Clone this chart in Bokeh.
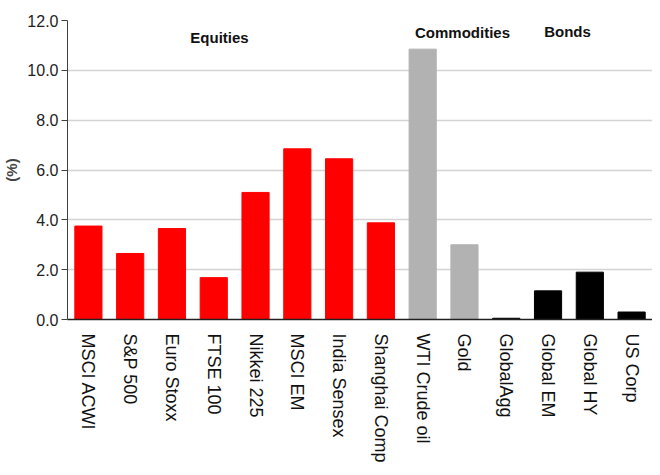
import math
from bokeh.plotting import figure
from bokeh.models import ColumnDataSource, Label, FixedTicker, NumeralTickFormatter, Range1d
from bokeh.embed import file_html
from bokeh.resources import INLINE

categories = ["MSCI ACWI", "S&P 500", "Euro Stoxx", "FTSE 100", "Nikkei 225", "MSCI EM",
              "India Sensex", "Shanghai Comp", "WTI Crude oil", "Gold", "GlobalAgg",
              "Global EM", "Global HY", "US Corp"]
values = [3.75, 2.65, 3.65, 1.68, 5.1, 6.85, 6.45, 3.88, 10.85, 3.0, 0.05, 1.15, 1.9, 0.3]
groups = ["Equities"] * 8 + ["Commodities"] * 2 + ["Bonds"] * 4
group_colors = {"Equities": "#ff0000", "Commodities": "#b2b2b2", "Bonds": "#000000"}
y_ticks = [0, 2, 4, 6, 8, 10, 12]

src = ColumnDataSource(dict(cat=categories, val=values,
                            color=[group_colors[g] for g in groups]))

p = figure(x_range=categories, width=652, height=467, output_backend="svg",
           toolbar_location=None, min_border_left=62, min_border_top=20,
           min_border_right=0, min_border_bottom=148)
p.y_range = Range1d(0, 12)
p.vbar(x="cat", top="val", width=0.65, color="color", source=src)

p.outline_line_color = None
p.background_fill_color = "white"
p.xgrid.grid_line_color = None
p.ygrid.grid_line_color = "#d4d4d4"
p.ygrid.grid_line_width = 1.5

p.yaxis.ticker = FixedTicker(ticks=y_ticks)
p.yaxis.formatter = NumeralTickFormatter(format="0.0")
p.yaxis.minor_tick_line_color = None
p.yaxis.major_tick_out = 6
p.yaxis.major_tick_in = 0
p.yaxis.axis_line_color = "#404040"
p.yaxis.major_tick_line_color = "#404040"
p.yaxis.major_label_text_font = "Liberation Sans"
p.yaxis.major_label_text_font_size = "16px"
p.yaxis.major_label_text_color = "#222222"
p.yaxis.major_label_standoff = 3
p.yaxis.axis_label = "(%)"
p.yaxis.axis_label_text_font = "Liberation Sans"
p.yaxis.axis_label_text_font_style = "bold"
p.yaxis.axis_label_text_font_size = "15px"
p.yaxis.axis_label_standoff = 4

p.xaxis.major_label_orientation = -math.pi / 2
p.xaxis.major_tick_line_color = None
p.xaxis.minor_tick_line_color = None
p.xaxis.axis_line_color = "#202020"
p.xaxis.axis_line_width = 1.5
p.xaxis.major_label_text_font = "Liberation Sans"
p.xaxis.major_label_text_font_size = "18px"
p.xaxis.major_label_text_color = "#111111"
p.xaxis.major_label_standoff = 8

for txt, xs, yv in [("Equities", 152, 11.3), ("Commodities", 395, 11.5), ("Bonds", 500, 11.55)]:
    p.add_layout(Label(x=xs, y=yv, x_units="screen", y_units="data", text=txt,
                       text_align="center", text_baseline="middle",
                       text_font="Liberation Sans", text_font_style="bold",
                       text_font_size="15px", text_color="#111111"))

open("out.html", "w").write(file_html(p, INLINE))
